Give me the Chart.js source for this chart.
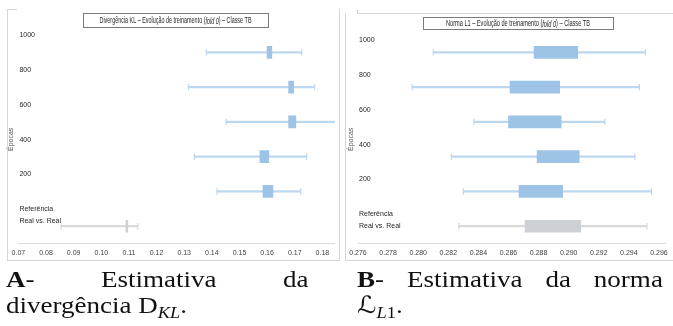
<!DOCTYPE html>
<html lang="pt">
<head>
<meta charset="utf-8">
<script src="https://cdn.jsdelivr.net/npm/chart.js@4/dist/chart.umd.min.js"></script>
<style>
  html, body { margin: 0; padding: 0; background: #fff; }
  body { width: 673px; height: 326px; position: relative; overflow: hidden; }
  .panel { position: absolute; top: 0; height: 262px; }
  .panel canvas { position: absolute; left: 0; top: 0; }
  .rule { position: absolute; background: #d6d6d6; }
  .caption {
    position: absolute;
    font-family: 'Liberation Serif', 'Times New Roman', serif;
    font-size: 23.5px;
    line-height: 26px;
    color: #111;
    transform: scaleX(1.15);
    transform-origin: 0 0;
  }
  .caption .l1 { text-align: justify; text-align-last: justify; }
  .caption sub { font-size: 16px; vertical-align: -5px; line-height: 0; }
  .caption .m { font-style: italic; }
  .caption .cal { font-family: 'DejaVu Serif', 'DejaVu Sans', serif; font-style: italic; }
</style>
</head>
<body>

<div class="panel" style="left:0;width:340px"><canvas id="kl" width="340" height="262"></canvas></div>
<div class="panel" style="left:340px;width:333px"><canvas id="l1" width="333" height="262"></canvas></div>

<!-- panel frames -->
<div class="rule" style="left:7px;top:9px;width:1px;height:252px"></div>
<div class="rule" style="left:7px;top:9px;width:10px;height:1px"></div>
<div class="rule" style="left:7px;top:260px;width:332px;height:1px"></div>
<div class="rule" style="left:339px;top:9px;width:1px;height:252px"></div>
<div class="rule" style="left:345px;top:13px;width:1px;height:248px"></div>
<div class="rule" style="left:357px;top:13px;width:316px;height:1px"></div>
<div class="rule" style="left:357px;top:9px;width:1px;height:4px"></div>
<div class="rule" style="left:345px;top:260px;width:328px;height:1px"></div>

<div class="caption" style="left:6px;top:266px;width:263px">
  <div class="l1"><b>A</b>- Estimativa da</div>
  <div>divergência D<sub class="m">KL</sub>.</div>
</div>
<div class="caption" style="left:357px;top:266px;width:266px">
  <div class="l1"><b>B</b>- Estimativa da norma</div>
  <div><span class="cal">ℒ</span><sub><span class="m">L</span>1</sub>.</div>
</div>

<script>
// Categories (training epochs, plus the real-vs-real reference)
const epochs = ['1000', '800', '600', '400', '200', 'Referência\nReal vs. Real'];

// KL divergence per epoch: whisker ends and box (quartile) edges
const klMin = [0.1380, 0.1315, 0.1452, 0.1337, 0.1419, 0.0855];
const klQ1  = [0.1600, 0.1678, 0.1678, 0.1574, 0.1585, 0.1089];
const klQ3  = [0.1617, 0.1696, 0.1704, 0.1606, 0.1621, 0.1096];
const klMax = [0.1725, 0.1772, 0.1851, 0.1743, 0.1722, 0.1132];
const klTicks = { min: 0.07, max: 0.1845, step: 0.01, digits: 2 };

// L1 norm per epoch: whisker ends and box (quartile) edges
const l1Min = [0.2810, 0.2796, 0.2837, 0.2822, 0.2830, 0.2827];
const l1Q1  = [0.2877, 0.2861, 0.2860, 0.2879, 0.2867, 0.2871];
const l1Q3  = [0.2906, 0.2894, 0.2895, 0.2907, 0.2896, 0.2908];
const l1Max = [0.2951, 0.2947, 0.2924, 0.2944, 0.2955, 0.2952];
const l1Ticks = { min: 0.276, max: 0.2964, step: 0.002, digits: 3 };

// Chart titles (middle part in italics)
const klTitle = ['Divergência KL – Evolução de treinamento (', 'fold 0', ') – Classe TB'];
const l1Title = ['Norma L1 – Evolução de treinamento (', 'fold 0', ') – Classe TB'];
const yTitle = 'Épocas';

const SANS = "'Liberation Sans', Arial, sans-serif";
const BOX_BLUE = '#9dc3e6', WHISKER_BLUE = '#bdd7ee';
const BOX_GREY = '#cdd1d5', WHISKER_GREY = '#d9d9d9';
const isRef = i => i === epochs.length - 1;
const boxColors = epochs.map((_, i) => isRef(i) ? BOX_GREY : BOX_BLUE);
const whiskerColors = epochs.map((_, i) => isRef(i) ? WHISKER_GREY : WHISKER_BLUE);

// Framed, condensed title with an italic middle segment
function framedTitle(parts, cx, cy, boxW, boxH, textW) {
  return {
    id: 'framedTitle',
    afterDraw(chart) {
      const ctx = chart.ctx;
      ctx.save();
      const fonts = parts.map((_, k) => (k === 1 ? 'italic ' : '') + '9px ' + SANS);
      const widths = parts.map((t, k) => { ctx.font = fonts[k]; return ctx.measureText(t).width; });
      const total = widths.reduce((a, b) => a + b, 0);
      const left = Math.round(cx - boxW / 2), top = Math.round(cy - boxH / 2);
      ctx.fillStyle = '#fff';
      ctx.fillRect(left, top, boxW, boxH);
      ctx.strokeStyle = '#7a7a7a';
      ctx.lineWidth = 1;
      ctx.strokeRect(left + 0.5, top + 0.5, boxW, boxH);
      // squeeze the text horizontally into textW
      const sx = textW / total;
      ctx.translate(cx - textW / 2, cy + 1);
      ctx.scale(sx, 1);
      ctx.fillStyle = '#262626';
      ctx.textBaseline = 'middle';
      let x = 0;
      parts.forEach((t, k) => { ctx.font = fonts[k]; ctx.fillText(t, x, 0); x += widths[k]; });
      ctx.restore();
    }
  };
}

function boxChart(canvasId, mins, q1, q3, maxs, tk, labelShift, padding, title) {
  return new Chart(document.getElementById(canvasId), {
    type: 'bar',
    data: {
      labels: epochs,
      datasets: [
        { // whiskers
          data: epochs.map((_, i) => [mins[i], maxs[i]]),
          backgroundColor: whiskerColors,
          barThickness: 1.6,
          grouped: false,
          order: 3
        },
        { // interquartile boxes
          data: epochs.map((_, i) => [q1[i], q3[i]]),
          backgroundColor: boxColors,
          barThickness: 12,
          grouped: false,
          order: 1
        },
        { // whisker caps (low)
          type: 'line', data: mins, showLine: false,
          pointStyle: 'line', pointRotation: 90, pointRadius: 3.2,
          pointBorderColor: whiskerColors, pointBorderWidth: 1.2, order: 2
        },
        { // whisker caps (high)
          type: 'line', data: maxs, showLine: false,
          pointStyle: 'line', pointRotation: 90, pointRadius: 3.2,
          pointBorderColor: whiskerColors, pointBorderWidth: 1.2, order: 2
        }
      ]
    },
    options: {
      indexAxis: 'y',
      responsive: false,
      animation: false,
      events: [],
      layout: { padding },
      plugins: { legend: { display: false }, tooltip: { enabled: false }, title: { display: false } },
      scales: {
        x: {
          type: 'linear',
          min: tk.min, max: tk.max,
          grid: { display: false, drawTicks: false },
          border: { display: true, color: '#d9d9d9', width: 1 },
          ticks: {
            stepSize: tk.step,
            includeBounds: false,
            maxRotation: 0,
            autoSkip: false,
            padding: 5,
            color: '#404040',
            font: { family: SANS, size: 7 },
            callback: v => v.toFixed(tk.digits)
          }
        },
        y: {
          type: 'category',
          offset: true,
          grid: { display: false, drawTicks: false },
          border: { display: false },
          title: {
            display: true, text: yTitle, color: '#595959',
            font: { family: SANS, size: 7 }, padding: { top: 2, bottom: 1 }
          },
          ticks: {
            mirror: true,
            autoSkip: false,
            padding: 1,
            labelOffset: labelShift,
            color: '#262626',
            font: { family: SANS, size: 7, lineHeight: 1.7 },
            callback(v) {
              const s = this.getLabelForValue(v);
              return s.includes('\n') ? [''].concat(s.split('\n')) : s;
            }
          }
        }
      }
    },
    plugins: [title]
  });
}

boxChart('kl', klMin, klQ1, klQ3, klMax, klTicks, -17,
  { left: 5, right: 4.3, top: 35, bottom: 0 },
  framedTitle(klTitle, 175.5, 20, 185, 14, 152));

boxChart('l1', l1Min, l1Q1, l1Q3, l1Max, l1Ticks, -12,
  { left: 4.6, right: 8, top: 35, bottom: 0 },
  framedTitle(l1Title, 178, 23, 190, 12, 144));
</script>
</body>
</html>
